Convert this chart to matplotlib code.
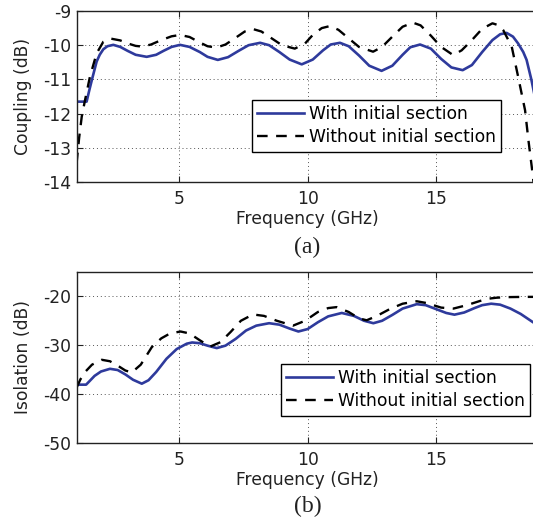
import matplotlib
matplotlib.use("Agg")
import matplotlib.pyplot as plt

plt.rcParams['font.family'] = ['DejaVu Sans']
plt.rcParams['axes.unicode_minus'] = False

# ---- (a) Coupling ----
a_with_f = [1.0, 1.39, 1.5, 1.6, 1.78, 1.9, 2.04, 2.2, 2.43, 2.7, 3.0, 3.3, 3.73, 4.1, 4.4, 4.7,
            5.03, 5.4, 5.8, 6.1, 6.5, 6.9, 7.3, 7.7, 8.15, 8.5, 8.9, 9.3, 9.77, 10.2, 10.6, 10.9,
            11.26, 11.6, 12.0, 12.4, 12.88, 13.3, 13.7, 14.0, 14.38, 14.8, 15.2, 15.6, 16.04,
            16.4, 16.8, 17.2, 17.5, 17.75, 18.0, 18.2, 18.4, 18.53, 18.72, 18.85, 19.0]
a_with_db = [-11.65, -11.65, -11.3, -11.0, -10.48, -10.28, -10.12, -10.03, -9.99, -10.05, -10.17,
             -10.28, -10.34, -10.28, -10.16, -10.05, -9.99, -10.05, -10.2, -10.34, -10.43, -10.35,
             -10.17, -10.0, -9.93, -10.0, -10.2, -10.42, -10.56, -10.42, -10.15, -9.98, -9.93,
             -10.03, -10.3, -10.6, -10.75, -10.6, -10.28, -10.06, -9.98, -10.1, -10.4, -10.65,
             -10.73, -10.58, -10.2, -9.85, -9.68, -9.64, -9.75, -9.95, -10.2, -10.43, -11.02,
             -11.5, -12.0]
a_without_f = [1.0, 1.1, 1.2, 1.33, 1.52, 1.78, 2.04, 2.35, 2.7, 3.0, 3.3, 3.55, 3.9, 4.3, 4.7,
               5.03, 5.4, 5.8, 6.1, 6.45, 6.8, 7.2, 7.55, 7.88, 8.2, 8.6, 9.0, 9.5, 9.9, 10.2,
               10.55, 10.87, 11.2, 11.6, 12.0, 12.55, 12.9, 13.3, 13.7, 14.1, 14.4, 14.8, 15.2,
               15.67, 16.0, 16.4, 16.8, 17.2, 17.45, 17.62, 17.95, 18.2, 18.47, 18.6, 18.73,
               18.8, 19.0]
a_without_db = [-13.45, -12.7, -12.09, -11.6, -10.92, -10.24, -9.9, -9.81, -9.86, -9.95, -10.02,
                -10.04, -9.98, -9.85, -9.74, -9.70, -9.76, -9.92, -10.03, -10.07, -9.98, -9.78,
                -9.6, -9.53, -9.6, -9.8, -10.0, -10.1, -9.95, -9.7, -9.5, -9.44, -9.55, -9.8,
                -10.05, -10.19, -10.05, -9.75, -9.46, -9.34, -9.42, -9.72, -10.05, -10.29, -10.15,
                -9.85, -9.52, -9.36, -9.42, -9.56, -10.04, -10.92, -11.9, -12.77, -13.55, -14.0,
                -15.0]

# ---- (b) Isolation ----
b_with_f = [1.0, 1.37, 1.5, 1.7, 1.95, 2.3, 2.6, 2.9, 3.2, 3.54, 3.8, 4.1, 4.5, 4.9, 5.29, 5.5,
            5.8, 6.1, 6.46, 6.8, 7.2, 7.6, 8.0, 8.5, 8.9, 9.3, 9.64, 10.0, 10.4, 10.8, 11.33,
            11.8, 12.2, 12.56, 12.9, 13.3, 13.7, 14.25, 14.6, 15.0, 15.4, 15.72, 16.1, 16.5,
            16.8, 17.15, 17.5, 17.9, 18.3, 18.78, 19.0]
b_with_db = [-38.1, -38.1, -37.4, -36.3, -35.4, -34.85, -35.1, -36.0, -37.1, -37.9, -37.2, -35.5,
             -32.8, -30.8, -29.7, -29.45, -29.6, -30.1, -30.6, -30.1, -28.7, -27.0, -26.0, -25.5,
             -25.8, -26.6, -27.2, -26.7, -25.3, -24.1, -23.4, -24.0, -25.0, -25.5, -25.0, -23.8,
             -22.5, -21.6, -21.8, -22.6, -23.4, -23.75, -23.3, -22.4, -21.8, -21.5, -21.7, -22.5,
             -23.6, -25.3, -26.0]
b_without_f = [1.0, 1.15, 1.33, 1.6, 1.98, 2.3, 2.6, 2.9, 3.15, 3.5, 3.93, 4.3, 4.64, 5.05, 5.4,
               5.8, 6.2, 6.6, 7.0, 7.4, 7.87, 8.3, 8.8, 9.43, 9.9, 10.4, 10.8, 11.13, 11.6, 12.0,
               12.3, 12.7, 13.2, 13.7, 14.25, 14.64, 15.2, 15.68, 16.2, 16.7, 17.0, 17.36, 17.8,
               18.5, 19.0]
b_without_db = [-38.7, -37.0, -35.5, -34.0, -33.0, -33.3, -34.2, -35.2, -35.6, -34.0, -30.4,
                -28.6, -27.6, -27.2, -27.6, -29.0, -30.3, -29.4, -27.3, -25.0, -23.7, -24.0,
                -25.0, -26.0, -25.0, -23.2, -22.4, -22.2, -23.2, -24.5, -24.9, -24.0, -22.6,
                -21.5, -21.0, -21.37, -22.3, -22.5, -21.8, -20.96, -20.5, -20.27, -20.15, -20.1,
                -20.1]

x_ticks = [5, 10, 15]
a_yticks = [-14, -13, -12, -11, -10, -9]
b_yticks = [-50, -40, -30, -20]
labels = ["With initial section", "Without initial section"]

W, H = 533, 524
fig = plt.figure(figsize=(W / 100, H / 100), dpi=100)

FS = 12.3
blue = '#2e3a9c'
dash = (0, (4.5, 3.6))

def setup(ax, yticks, ylim, ylabel, xlab_y):
    ax.set_xlim(1, 19)
    ax.set_ylim(*ylim)
    ax.set_xticks(x_ticks)
    ax.set_yticks(yticks)
    ax.tick_params(direction='in', length=4, width=0.8, labelsize=FS, pad=4,
                   top=True, right=True, colors='#222222')
    ax.tick_params(axis='x', pad=6)
    ax.grid(True, linestyle=(0, (1, 3)), color='#555555', linewidth=0.7)
    for s in ax.spines.values():
        s.set_linewidth(1.0)
        s.set_color('#222222')
    ax.set_xlabel("Frequency (GHz)", fontsize=FS, color='#222222')
    ax.set_ylabel(ylabel, fontsize=FS, color='#222222')
    ax.xaxis.set_label_coords(0.5, xlab_y)
    ax.yaxis.set_label_coords(-0.097, 0.5)

left = 76.6 / W
width = (19 - 1) * 25.67 / W
leg_kw = dict(loc='upper left', borderaxespad=0, fontsize=FS, frameon=True, fancybox=False,
              edgecolor='black', framealpha=1, handlelength=2.7, handletextpad=0.3,
              labelspacing=0.28, borderpad=0.32)

ax1 = fig.add_axes([left, 1 - 182 / H, width, 171 / H])
ax1.plot(a_with_f, a_with_db, color=blue, lw=1.9, label=labels[0])
ax1.plot(a_without_f, a_without_db, color='black', lw=1.7, linestyle=dash, label=labels[1])
setup(ax1, a_yticks, (-14, -9), "Coupling (dB)", -0.163)
leg1 = ax1.legend(bbox_to_anchor=((252 - 76.6) / 462, (182 - 100) / 171), **leg_kw)
leg1.get_frame().set_linewidth(1.0)

ax2 = fig.add_axes([left, 1 - 442.7 / H, width, 170.7 / H])
ax2.plot(b_with_f, b_with_db, color=blue, lw=1.9, label=labels[0])
ax2.plot(b_without_f, b_without_db, color='black', lw=1.7, linestyle=dash, label=labels[1])
setup(ax2, b_yticks, (-50, -15), "Isolation (dB)", -0.168)
leg2 = ax2.legend(bbox_to_anchor=((281 - 76.6) / 462, (442.7 - 364) / 170.7), **leg_kw)
leg2.get_frame().set_linewidth(1.0)

fig.text(307.5 / W, 1 - 247 / H, "(a)", ha='center', va='center', fontsize=17,
         family='Liberation Serif', color='#222222')
fig.text(307.5 / W, 1 - 506 / H, "(b)", ha='center', va='center', fontsize=17,
         family='Liberation Serif', color='#222222')

fig.savefig("out.png", dpi=100)
